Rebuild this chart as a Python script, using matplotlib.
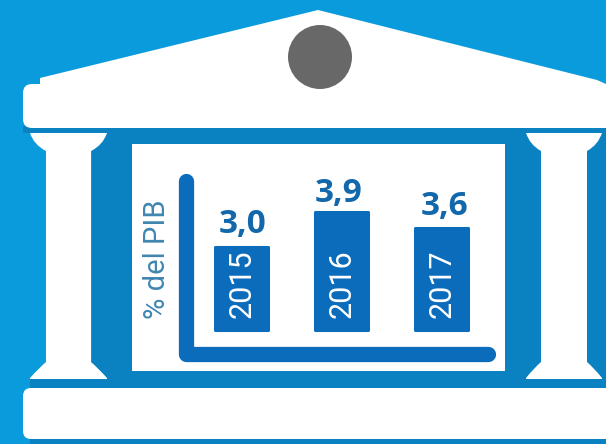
import matplotlib
matplotlib.use('Agg')
import matplotlib.pyplot as plt
from matplotlib.patches import Polygon, Circle, FancyBboxPatch, Rectangle, PathPatch
from matplotlib.path import Path

years = ['2015', '2016', '2017']
value_labels = ['3,0', '3,9', '3,6']
# bar lengths as measured on the picture (the drawn bars are not quite to scale)
bar_heights = [83, 118, 102]

BRIGHT = '#0a9bdc'
WALL = '#0a82c2'
DARK = '#0a6cba'
WHITE = '#ffffff'

fig = plt.figure(figsize=(6.06, 4.44), dpi=100, facecolor=BRIGHT)

# background layer in pixel coords, for the building
bg = fig.add_axes([0, 0, 1, 1])
bg.set_xlim(0, 606)
bg.set_ylim(444, 0)
bg.axis('off')


def rounded(x, y, w, h, r, color, z=1):
    bg.add_patch(FancyBboxPatch((x + r, y + r), w - 2 * r, h - 2 * r,
                                boxstyle='round,pad=%d' % r, fc=color, ec='none', zorder=z))


def column(left, right, shaft_l, shaft_r):
    verts = [(left, 133), (right, 133),
             (right - 4, 145), (shaft_r, 151),
             (shaft_r, 362),
             (shaft_r + 7, 368), (right, 378),
             (right, 379), (left, 379), (left, 378),
             (shaft_l - 7, 368), (shaft_l, 362),
             (shaft_l, 151),
             (left + 4, 145), (left, 133), (left, 133)]
    codes = [Path.MOVETO, Path.LINETO,
             Path.CURVE3, Path.CURVE3,
             Path.LINETO,
             Path.CURVE3, Path.CURVE3,
             Path.LINETO, Path.LINETO, Path.LINETO,
             Path.CURVE3, Path.CURVE3,
             Path.LINETO,
             Path.CURVE3, Path.CURVE3, Path.CLOSEPOLY]
    bg.add_patch(PathPatch(Path(verts, codes), fc=WHITE, ec='none', zorder=2))


# darker wall behind the columns
bg.add_patch(Rectangle((92, 128), 514, 260, fc=WALL, ec='none', zorder=0))
bg.add_patch(Rectangle((23, 126), 583, 7, fc=WALL, ec='none', zorder=0))
bg.add_patch(Rectangle((30, 378), 576, 10, fc=WALL, ec='none', zorder=0))
bg.add_patch(Rectangle((30, 438), 576, 6, fc=WALL, ec='none', zorder=0))

# roof
bg.add_patch(Polygon([(40, 83), (40, 78), (318, 10), (597, 80), (606, 84), (606, 127), (40, 127)],
                     fc=WHITE, ec='none', zorder=1))
rounded(23, 84, 630, 44, 9, WHITE)
bg.add_patch(Circle((320, 57), 32, fc='#686868', ec='none', zorder=2))

column(30, 107, 46, 91)
column(526, 602, 541, 587)

# base
rounded(23, 388, 630, 51, 8, WHITE)

# white panel
bg.add_patch(Rectangle((132, 144), 373, 227, fc=WHITE, ec='none', zorder=2))

# chart
ax = fig.add_axes([178 / 606, 1 - 361 / 444, 318 / 606, 188 / 444])
ax.patch.set_alpha(0)
ax.set_xlim(178, 496)
ax.set_ylim(-31, 157)
ax.axis('off')

xpos = [241.5, 341.5, 441.5]
label_dx = [1.5, -2.5, 3.5]
label_dy = [14, 10, 13]
ax.bar(xpos, bar_heights, width=53, color=DARK, edgecolor=DARK, linewidth=2.2,
       joinstyle='round', zorder=3)
for x, h, lab, yr, dx, dy in zip(xpos, bar_heights, value_labels, years, label_dx, label_dy):
    ax.text(x + dx, h + dy, lab, ha='center', va='baseline', fontsize=24, fontweight='bold',
            color='#1268ab', family=['Open Sans', 'DejaVu Sans'], zorder=4)
    ax.text(x + 1, 46, yr, ha='center', va='center', rotation=90, fontsize=22, color=WHITE,
            family=['Roboto', 'DejaVu Sans'], zorder=4)

# axis strokes
bg.plot([186, 186, 488], [181, 354, 354], color=DARK, lw=11, solid_capstyle='round',
        solid_joinstyle='round', zorder=3)
bg.text(157, 259, '% del PIB', rotation=90, ha='center', va='center', fontsize=21,
        color='#3f86b0', family=['Roboto', 'DejaVu Sans'], zorder=3)

fig.savefig('out.png', dpi=100, facecolor=BRIGHT)
